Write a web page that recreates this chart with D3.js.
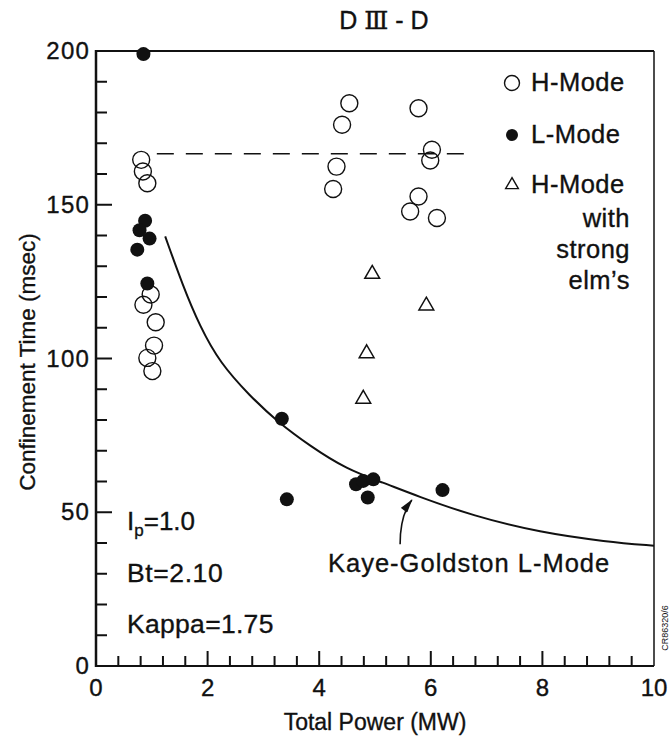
<!DOCTYPE html>
<html>
<head>
<meta charset="utf-8">
<script src="https://cdn.jsdelivr.net/npm/d3@7"></script>
<style>
body { margin: 0; background: #fff; }
text { font-family: "Liberation Sans", Arial, Helvetica, sans-serif; fill: #111; stroke: #111; stroke-width: 0.35px; }
</style>
</head>
<body>
<div id="chart"></div>
<script>
// values (power in MW, confinement time in msec)
var hModeP = [0.81, 0.84, 0.92, 0.98, 0.85, 1.07, 1.04, 0.92, 1.01, 4.54, 4.41, 5.78, 6.02, 5.99, 4.31, 4.25, 5.78, 5.63, 6.11];
var hModeTau = [164.6, 160.8, 157.0, 120.8, 117.5, 111.8, 104.2, 100.2, 95.9, 183.0, 176.0, 181.4, 167.9, 164.4, 162.4, 155.1, 152.7, 147.8, 145.7];

var lModeP = [0.85, 0.88, 0.78, 0.96, 0.74, 0.92, 3.33, 3.42, 4.66, 4.79, 4.97, 4.87, 6.21];
var lModeTau = [199.0, 144.8, 141.7, 139.0, 135.4, 124.4, 80.4, 54.2, 59.1, 60.2, 60.7, 54.8, 57.2];

var elmP = [4.95, 5.92, 4.85, 4.79];
var elmTau = [127.8, 117.5, 102.0, 87.2];

// Kaye-Goldston L-mode curve, traced
var kgP = [1.24, 1.56, 1.86, 2.22, 2.76, 3.24, 3.84, 4.49, 5.15, 5.75, 6.76, 7.96, 9.15, 10.0];
var kgTau = [139.7, 123.5, 110.5, 98.6, 87.8, 79.6, 71.5, 64.0, 59.6, 55.3, 48.8, 43.4, 40.4, 39.1];

// dashed reference level
var dashP = [1.09, 6.64];
var dashTau = [166.6, 166.6];

var xTicks = [0, 2, 4, 6, 8, 10];
var yTicks = [0, 50, 100, 150, 200];

function drawChart() {
    var width = 670, height = 747;
    var svg = d3.select("#chart").append("svg")
        .attr("width", width)
        .attr("height", height);

    var x = d3.scaleLinear().domain([0, 10]).range([96, 654]);
    var y = d3.scaleLinear().domain([0, 200]).range([666, 51]);

    // inward ticks, major and minor
    var xMinor = d3.range(0.4, 10, 0.4).filter(function (d) { return Math.abs(d / 2 - Math.round(d / 2)) > 0.01; });
    var yMinor = d3.range(10, 200, 10).filter(function (d) { return d % 50 != 0; });
    var xTickData = xMinor.map(function (d) { return [d, 10]; })
        .concat(xTicks.slice(1, -1).map(function (d) { return [d, 15]; }));
    var yTickData = yMinor.map(function (d) { return [d, 11]; })
        .concat(yTicks.slice(1, -1).map(function (d) { return [d, 16]; }));

    var ticks = svg.append("g").attr("stroke", "#111").attr("stroke-width", 2);
    ticks.selectAll("line.xt").data(xTickData).enter().append("line")
        .attr("class", "xt")
        .attr("x1", function (d) { return x(d[0]); })
        .attr("x2", function (d) { return x(d[0]); })
        .attr("y1", y(0))
        .attr("y2", function (d) { return y(0) - d[1]; });
    ticks.selectAll("line.yt").data(yTickData).enter().append("line")
        .attr("class", "yt")
        .attr("x1", x(0))
        .attr("x2", function (d) { return x(0) + d[1]; })
        .attr("y1", function (d) { return y(d[0]); })
        .attr("y2", function (d) { return y(d[0]); });

    // tick labels
    svg.append("g").selectAll("text").data(xTicks).enter().append("text")
        .text(function (d) { return d; })
        .attr("x", function (d) { return x(d); })
        .attr("y", y(0) + 30)
        .attr("text-anchor", "middle")
        .style("font-size", "24px");
    svg.append("g").selectAll("text").data(yTicks).enter().append("text")
        .text(function (d) { return d; })
        .attr("x", x(0) - 6)
        .attr("y", function (d) { return y(d) + 8; })
        .attr("text-anchor", "end")
        .attr("letter-spacing", "1.2")
        .style("font-size", "24px");

    // frame
    svg.append("line").attr("x1", x(0)).attr("x2", x(0)).attr("y1", y(200) - 1).attr("y2", y(0) + 1)
        .attr("stroke", "#111").attr("stroke-width", 2.5);
    svg.append("line").attr("x1", x(0)).attr("x2", x(10)).attr("y1", y(0)).attr("y2", y(0))
        .attr("stroke", "#111").attr("stroke-width", 2.2);
    svg.append("line").attr("x1", x(0)).attr("x2", x(10)).attr("y1", y(200)).attr("y2", y(200))
        .attr("stroke", "#111").attr("stroke-width", 2.2);
    svg.append("line").attr("x1", x(10)).attr("x2", x(10)).attr("y1", y(200)).attr("y2", y(0))
        .attr("stroke", "#111").attr("stroke-width", 1.5);

    // dashed line
    svg.append("line")
        .attr("x1", x(dashP[0])).attr("x2", x(dashP[1]))
        .attr("y1", y(dashTau[0])).attr("y2", y(dashTau[1]))
        .attr("stroke", "#111").attr("stroke-width", 1.6)
        .attr("stroke-dasharray", "17,12");

    // Kaye-Goldston curve
    var kgData = kgP.map(function (p, i) { return [p, kgTau[i]]; });
    var line = d3.line()
        .x(function (d) { return x(d[0]); })
        .y(function (d) { return y(d[1]); })
        .curve(d3.curveBasis);
    svg.append("path").datum(kgData)
        .attr("d", line)
        .attr("fill", "none")
        .attr("stroke", "#111")
        .attr("stroke-width", 2);

    // H-mode open circles
    svg.append("g").selectAll("circle")
        .data(hModeP.map(function (p, i) { return [p, hModeTau[i]]; }))
        .enter().append("circle")
        .attr("cx", function (d) { return x(d[0]); })
        .attr("cy", function (d) { return y(d[1]); })
        .attr("r", 8.5)
        .attr("fill", "none")
        .attr("stroke", "#111")
        .attr("stroke-width", 1.4);

    // L-mode filled circles
    svg.append("g").selectAll("circle")
        .data(lModeP.map(function (p, i) { return [p, lModeTau[i]]; }))
        .enter().append("circle")
        .attr("cx", function (d) { return x(d[0]); })
        .attr("cy", function (d) { return y(d[1]); })
        .attr("r", 7)
        .attr("fill", "#111");

    // H-mode with strong ELMs: triangles
    var tri = d3.symbol().type(d3.symbolTriangle).size(95);
    svg.append("g").selectAll("path")
        .data(elmP.map(function (p, i) { return [p, elmTau[i]]; }))
        .enter().append("path")
        .attr("d", tri)
        .attr("transform", function (d) { return "translate(" + x(d[0]) + "," + (y(d[1]) + 1) + ")"; })
        .attr("fill", "none")
        .attr("stroke", "#111")
        .attr("stroke-width", 1.5);

    // legend
    var legend = svg.append("g");
    legend.append("circle").attr("cx", 512).attr("cy", 83).attr("r", 7.5)
        .attr("fill", "none").attr("stroke", "#111").attr("stroke-width", 1.4);
    legend.append("circle").attr("cx", 512).attr("cy", 135).attr("r", 6).attr("fill", "#111");
    legend.append("path").attr("d", d3.symbol().type(d3.symbolTriangle).size(70))
        .attr("transform", "translate(512,185)")
        .attr("fill", "none").attr("stroke", "#111").attr("stroke-width", 1.4);
    var legendText = [["H-Mode", 531, 91, "start"], ["L-Mode", 531, 143, "start"], ["H-Mode", 531, 193, "start"],
        ["with", 630, 227, "end"], ["strong", 630, 258, "end"], ["elm's", 630, 289, "end"]];
    legend.selectAll("text").data(legendText)
        .enter().append("text")
        .text(function (d) { return d[0].replace("'", "\u2019"); })
        .attr("x", function (d) { return d[1]; })
        .attr("y", function (d) { return d[2]; })
        .attr("text-anchor", function (d) { return d[3]; })
        .style("font-size", "25.5px")
        .attr("letter-spacing", "0.5");

    // title
    var title = svg.append("text")
        .attr("x", 384).attr("y", 29)
        .attr("text-anchor", "middle")
        .style("font-size", "25px");
    title.append("tspan").text("D ");
    title.append("tspan").text("\u2162").style("font-family", "DejaVu Serif, serif");
    title.append("tspan").text(" - D");

    // axis labels
    svg.append("text").text("Total Power (MW)")
        .attr("x", 375).attr("y", 730)
        .attr("text-anchor", "middle")
        .style("font-size", "23px");
    svg.append("text").text("Confinement Time (msec)")
        .attr("transform", "translate(35,362) rotate(-90)")
        .attr("text-anchor", "middle")
        .style("font-size", "22.5px");

    // parameters
    var ip = svg.append("text").attr("x", 127).attr("y", 530).style("font-size", "26px");
    ip.append("tspan").text("I");
    ip.append("tspan").text("p").attr("dy", 6).style("font-size", "17px");
    ip.append("tspan").text("=1.0").attr("dy", -6);
    svg.append("text").text("Bt=2.10").attr("x", 127).attr("y", 582).style("font-size", "26.5px")
        .attr("letter-spacing", "0.6");
    svg.append("text").text("Kappa=1.75").attr("x", 127).attr("y", 633).style("font-size", "26.5px")
        .attr("letter-spacing", "0.3");

    // curve annotation
    svg.append("text").text("Kaye-Goldston L-Mode")
        .attr("x", 328).attr("y", 572)
        .style("font-size", "25.5px")
        .attr("letter-spacing", "1");

    svg.append("defs").append("marker")
        .attr("id", "arrow")
        .attr("viewBox", "0 0 14 8")
        .attr("refX", 13).attr("refY", 4)
        .attr("markerWidth", 15).attr("markerHeight", 8)
        .attr("markerUnits", "userSpaceOnUse")
        .attr("orient", "auto")
        .append("path").attr("d", "M0,0 L14,4 L0,8 z").attr("fill", "#111");
    svg.append("path")
        .attr("d", "M" + x(5.45) + "," + y(39.6) + " Q" + x(5.45) + "," + y(49) + " " + x(5.66) + "," + y(54.0))
        .attr("fill", "none")
        .attr("stroke", "#111")
        .attr("stroke-width", 1.6)
        .attr("marker-end", "url(#arrow)");

    // scan id
    svg.append("text").text("CR86320/6")
        .attr("transform", "translate(668,628) rotate(-90)")
        .attr("text-anchor", "middle")
        .style("font-size", "9px")
        .style("stroke-width", "0")
        .attr("fill", "#444");
}

drawChart();
</script>
</body>
</html>
